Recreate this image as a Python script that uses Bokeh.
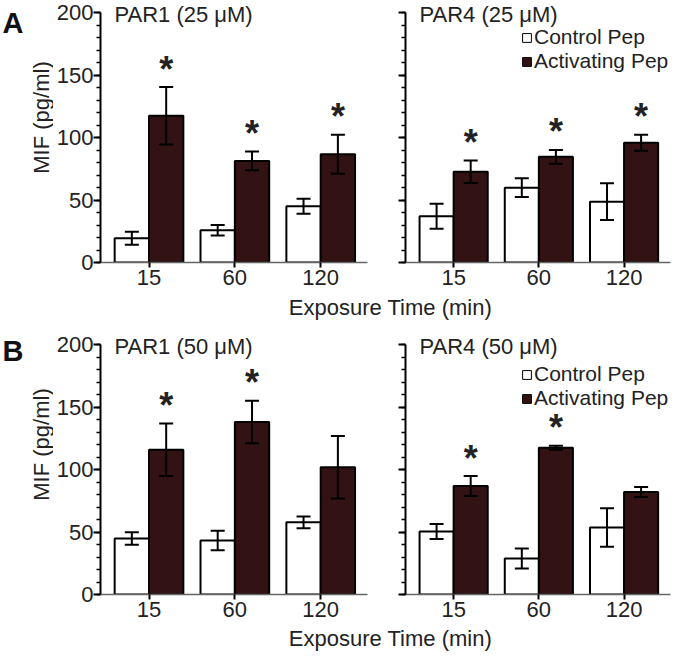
import math
from bokeh.plotting import figure
from bokeh.layouts import column, row
from bokeh.models import (ColumnDataSource, Whisker, TeeHead, Label, Legend, LegendItem,
                          FixedTicker, Range1d)
from bokeh.embed import file_html
from bokeh.resources import INLINE
from bokeh.core.properties import value

# ---------------- data ----------------
times = ["15", "60", "120"]
y_ticks = [0, 50, 100, 150, 200]
y_minor = list(range(0, 201, 10))
series_names = ["Control Pep", "Activating Pep"]

par1_25_ctrl = [19.5, 25.8, 45.0]
par1_25_ctrl_err = [5.2, 4.2, 6.0]
par1_25_act = [117.4, 81.3, 86.7]
par1_25_act_err = [23.0, 7.5, 15.6]
par1_25_sig = [True, True, True]

par4_25_ctrl = [37.0, 59.9, 48.7]
par4_25_ctrl_err = [10.0, 7.5, 14.7]
par4_25_act = [72.7, 84.6, 95.8]
par4_25_act_err = [9.0, 5.5, 6.4]
par4_25_sig = [True, True, True]

par1_50_ctrl = [44.8, 43.3, 57.8]
par1_50_ctrl_err = [5.0, 7.8, 4.7]
par1_50_act = [115.8, 138.0, 101.8]
par1_50_act_err = [21.0, 17.0, 25.0]
par1_50_sig = [True, True, False]

par4_50_ctrl = [50.5, 28.8, 53.6]
par4_50_ctrl_err = [6.0, 8.0, 15.4]
par4_50_act = [86.8, 117.4, 82.1]
par4_50_act_err = [8.0, 1.6, 4.0]
par4_50_sig = [True, True, False]

# ---------------- style ----------------
FONT = "Liberation Sans"
FS = "22px"
LFS = "21px"
TXT = "#222222"
DARK = "#321213"
BAR_W = 0.4
PX_PER_UNIT = 1.25
TOP_PAD = 12                      # px between frame top and the 200 tick
Y_END = 200 + TOP_PAD / PX_PER_UNIT
FRAME_H = round(Y_END * PX_PER_UNIT)
XR = (-0.565, 2.545)
SIDE_SHIFT = 35                   # empirical correction for the narrow side strips


def make_panel(title, ctrl, ctrl_err, act, act_err, sig, *, left, legend_y,
               frame_w, b_left, b_right, b_top, b_bottom):
    p = figure(frame_width=frame_w, frame_height=FRAME_H,
               x_range=Range1d(*XR), y_range=Range1d(0, Y_END),
               output_backend="svg", toolbar_location=None,
               min_border_left=b_left, min_border_right=b_right,
               min_border_top=b_top, min_border_bottom=b_bottom,
               background_fill_color="white", border_fill_color="white")
    p.outline_line_color = None
    p.xgrid.visible = False
    p.ygrid.visible = False

    idx = list(range(len(times)))
    cx = [i - BAR_W / 2 for i in idx]
    ax = [i + BAR_W / 2 for i in idx]
    p.vbar(x=cx, top=ctrl, width=BAR_W, bottom=0, fill_color="white",
           line_color="black", line_width=2)
    p.vbar(x=ax, top=act, width=BAR_W, bottom=0, fill_color=DARK,
           line_color="black", line_width=2)

    for xs, m, e in ((cx, ctrl, ctrl_err), (ax, act, act_err)):
        src = ColumnDataSource(dict(x=xs, lo=[a - b for a, b in zip(m, e)],
                                    hi=[a + b for a, b in zip(m, e)]))
        w = Whisker(source=src, base="x", lower="lo", upper="hi",
                    line_color="black", line_width=2, level="annotation",
                    upper_head=TeeHead(size=14, line_width=2, line_color="black"),
                    lower_head=TeeHead(size=14, line_width=2, line_color="black"))
        p.add_layout(w)

    sx = [x for x, s in zip(ax, sig) if s]
    sy = [a + b for a, b, s in zip(act, act_err, sig) if s]
    p.text(x=sx, y=sy, text=["*"] * len(sx), text_align="center",
           text_baseline="middle", text_font=value(FONT), text_font_size="36px",
           text_font_style="bold", text_color=TXT, y_offset=-18)

    # x axis
    xa = p.xaxis[0]
    xa.ticker = FixedTicker(ticks=idx)
    xa.major_label_overrides = {i: t for i, t in zip(idx, times)}
    xa.axis_line_color = "#666666"
    xa.axis_line_width = 1.5
    xa.major_tick_line_color = "black"
    xa.major_tick_line_width = 2
    xa.major_tick_out = 5
    xa.major_tick_in = 0
    xa.minor_tick_line_color = None
    xa.major_label_standoff = 2
    xa.major_label_text_font = FONT
    xa.major_label_text_font_size = FS
    xa.major_label_text_color = TXT

    # y axis
    ya = p.yaxis[0]
    ya.ticker = FixedTicker(ticks=y_ticks, minor_ticks=y_minor)
    ya.bounds = (0, 200)
    ya.axis_line_color = "black"
    ya.axis_line_width = 2
    ya.major_tick_line_color = "black"
    ya.major_tick_line_width = 2
    ya.major_tick_out = 7
    ya.major_tick_in = 0
    ya.minor_tick_line_color = "black"
    ya.minor_tick_line_width = 1.5
    ya.minor_tick_out = 4
    ya.minor_tick_in = 0
    ya.major_label_standoff = 0
    ya.major_label_text_font = FONT
    ya.major_label_text_font_size = FS
    ya.major_label_text_color = TXT
    if not left:
        ya.major_label_overrides = {t: "" for t in y_ticks}

    p.add_layout(Label(x=14, y=FRAME_H - TOP_PAD - 2, x_units="screen",
                       y_units="screen", text=title, text_font=FONT,
                       text_font_size=FS, text_color=TXT, text_baseline="middle"))
    if legend_y is not None:
        r1 = p.vbar(x=[-10], top=[1], width=BAR_W, fill_color="white",
                    line_color="black", line_width=1)
        r2 = p.vbar(x=[-10], top=[1], width=BAR_W, fill_color=DARK,
                    line_color="black", line_width=1)
        lg = Legend(items=[LegendItem(label=series_names[0], renderers=[r1]),
                           LegendItem(label=series_names[1], renderers=[r2])],
                    location=(116, legend_y), glyph_width=11, glyph_height=11,
                    label_standoff=2, spacing=0, padding=0, margin=0,
                    label_height=21, border_line_color=None,
                    background_fill_alpha=0, label_text_font=FONT,
                    label_text_font_size=LFS, label_text_color=TXT)
        p.add_layout(lg)
    return p


def blank(w, h):
    s = figure(width=w, height=h, x_range=Range1d(0, w), y_range=Range1d(0, h),
               output_backend="svg", toolbar_location=None,
               x_axis_location=None, y_axis_location=None,
               min_border_left=0, min_border_right=0,
               min_border_top=0, min_border_bottom=0)
    s.grid.visible = False
    s.outline_line_color = None
    return s


def side_strip(w, h, letter, letter_from_top, ylabel_from_top):
    s = blank(w, h)
    s.add_layout(Label(x=2, y=h - letter_from_top - SIDE_SHIFT, x_units="screen",
                       y_units="screen", text=letter, text_font=FONT,
                       text_font_size="29px", text_font_style="bold",
                       text_color="#111111", text_baseline="middle"))
    s.add_layout(Label(x=41, y=h - ylabel_from_top - SIDE_SHIFT, x_units="screen",
                       y_units="screen", text="MIF (pg/ml)", angle=math.pi / 2,
                       text_font=FONT, text_font_size="22px",
                       text_color=TXT, text_align="center",
                       text_baseline="middle"))
    return s


def xlabel_strip(h, y):
    s = blank(669, h)
    s.add_layout(Label(x=390, y=y, x_units="screen", y_units="screen",
                       text="Exposure Time (min)", text_font=FONT, text_font_size=FS,
                       text_color=TXT, text_align="center",
                       text_baseline="middle"))
    return s


SW = 53
T1, B1, T2, B2 = 0, 31, 11, 32
H1 = T1 + FRAME_H + B1
H2 = T2 + FRAME_H + B2

tl = make_panel("PAR1 (25 μM)", par1_25_ctrl, par1_25_ctrl_err, par1_25_act,
                par1_25_act_err, par1_25_sig, left=True, legend_y=None,
                frame_w=267, b_left=98 - SW, b_right=19, b_top=T1, b_bottom=B1)
tr = make_panel("PAR4 (25 μM)", par4_25_ctrl, par4_25_ctrl_err, par4_25_act,
                par4_25_act_err, par4_25_sig, left=False, legend_y=189,
                frame_w=265, b_left=19, b_right=1, b_top=T1, b_bottom=B1)
bl = make_panel("PAR1 (50 μM)", par1_50_ctrl, par1_50_ctrl_err, par1_50_act,
                par1_50_act_err, par1_50_sig, left=True, legend_y=None,
                frame_w=267, b_left=98 - SW, b_right=19, b_top=T2, b_bottom=B2)
br = make_panel("PAR4 (50 μM)", par4_50_ctrl, par4_50_ctrl_err, par4_50_act,
                par4_50_act_err, par4_50_sig, left=False, legend_y=184,
                frame_w=265, b_left=19, b_right=1, b_top=T2, b_bottom=B2)

layout = column(
    row(side_strip(SW, H1, "A", 18, 113), tl, tr, spacing=0),
    xlabel_strip(28, 14),
    row(side_strip(SW, H2, "B", 26, 120), bl, br, spacing=0),
    xlabel_strip(25, 13),
    spacing=0)

open("out.html", "w").write(file_html(layout, INLINE))
